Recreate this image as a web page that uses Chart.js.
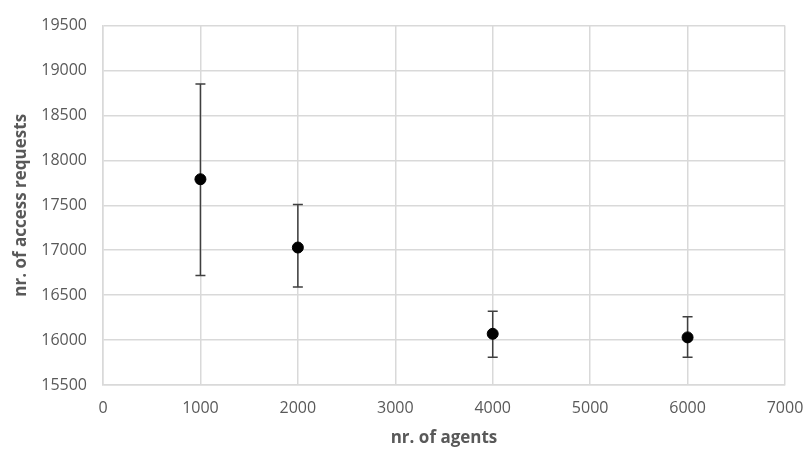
<!DOCTYPE html>
<html>
<head>
<meta charset="utf-8">
<script src="https://cdn.jsdelivr.net/npm/chart.js@4/dist/chart.umd.min.js"></script>
<style>
  html, body { margin: 0; padding: 0; background: #fff; }
  #wrap { width: 804px; height: 452px; }
</style>
</head>
<body>
<div id="wrap"><canvas id="myChart" width="804" height="452"></canvas></div>
<script>
// values
const agents = [1000, 2000, 4000, 6000];
const requests = [17790, 17030, 16070, 16030];
const errLow = [16720, 16590, 15810, 15810];
const errHigh = [18850, 17510, 16320, 16260];

const xTicks = [0, 1000, 2000, 3000, 4000, 5000, 6000, 7000];
const yTicks = [15500, 16000, 16500, 17000, 17500, 18000, 18500, 19000, 19500];

const gridColor = '#d9d9d9';
const textColor = '#595959';

// error bars, drawn through the chart's own scales
const errorBars = {
    id: 'errorBars',
    beforeDatasetsDraw(chart) {
        let ctx = chart.ctx;
        let xs = chart.scales.x;
        let ys = chart.scales.y;
        ctx.save();
        ctx.strokeStyle = '#3f3f3f';
        ctx.lineWidth = 1.5;
        for (let i = 0; i < agents.length; i++) {
            let px = xs.getPixelForValue(agents[i]);
            let top = ys.getPixelForValue(errHigh[i]);
            let bot = ys.getPixelForValue(errLow[i]);
            ctx.beginPath();
            ctx.moveTo(px, top);
            ctx.lineTo(px, bot);
            ctx.moveTo(px - 5, top);
            ctx.lineTo(px + 5, top);
            ctx.moveTo(px - 5, bot);
            ctx.lineTo(px + 5, bot);
            ctx.stroke();
        }
        ctx.restore();
    }
};

const buildGraph = () => {
    let ctx = document.getElementById('myChart').getContext('2d');

    const data = {
        datasets: [
            {
                label: 'requests',
                data: agents.map((a, i) => ({ x: a, y: requests[i] })),
                backgroundColor: '#000',
                borderColor: '#000',
                pointRadius: 5.5,
                pointHoverRadius: 5.5,
            }
        ]
    };

    new Chart(ctx, {
        type: 'scatter',
        data: data,
        plugins: [errorBars],
        options: {
            responsive: false,
            animation: false,
            layout: { padding: { top: 18, right: 0, left: 0, bottom: 0 } },
            plugins: {
                legend: { display: false },
                tooltip: { enabled: false }
            },
            scales: {
                x: {
                    type: 'linear',
                    min: 0,
                    max: 7000,
                    afterBuildTicks: (axis) => { axis.ticks = xTicks.map(v => ({ value: v })); },
                    afterFit: (axis) => {
                        axis.height = 67;
                        axis.paddingRight = 19;
                    },
                    grid: { color: gridColor, lineWidth: 1.5, drawTicks: false },
                    border: { color: gridColor, width: 1.5 },
                    ticks: {
                        color: textColor,
                        padding: 14,
                        font: { family: 'Open Sans', size: 16 },
                        maxRotation: 0,
                        callback: (v) => String(v)
                    },
                    title: {
                        display: true,
                        text: 'nr. of agents',
                        color: textColor,
                        padding: { top: 4, bottom: 4 },
                        font: { family: 'Open Sans', size: 17, weight: 'bold' }
                    }
                },
                y: {
                    type: 'linear',
                    min: 15500,
                    max: 19500,
                    afterBuildTicks: (axis) => { axis.ticks = yTicks.map(v => ({ value: v })); },
                    afterFit: (axis) => { axis.width = 103; },
                    grid: { color: gridColor, lineWidth: 1.5, drawTicks: false },
                    border: { color: gridColor, width: 1.5 },
                    ticks: {
                        color: textColor,
                        padding: 16,
                        font: { family: 'Open Sans', size: 16 },
                        callback: (v) => String(v)
                    },
                    title: {
                        display: true,
                        text: 'nr. of access requests',
                        color: textColor,
                        padding: { top: 11, bottom: 4 },
                        font: { family: 'Open Sans', size: 17, weight: 'bold' }
                    }
                }
            }
        }
    });
};

buildGraph();
</script>
</body>
</html>
